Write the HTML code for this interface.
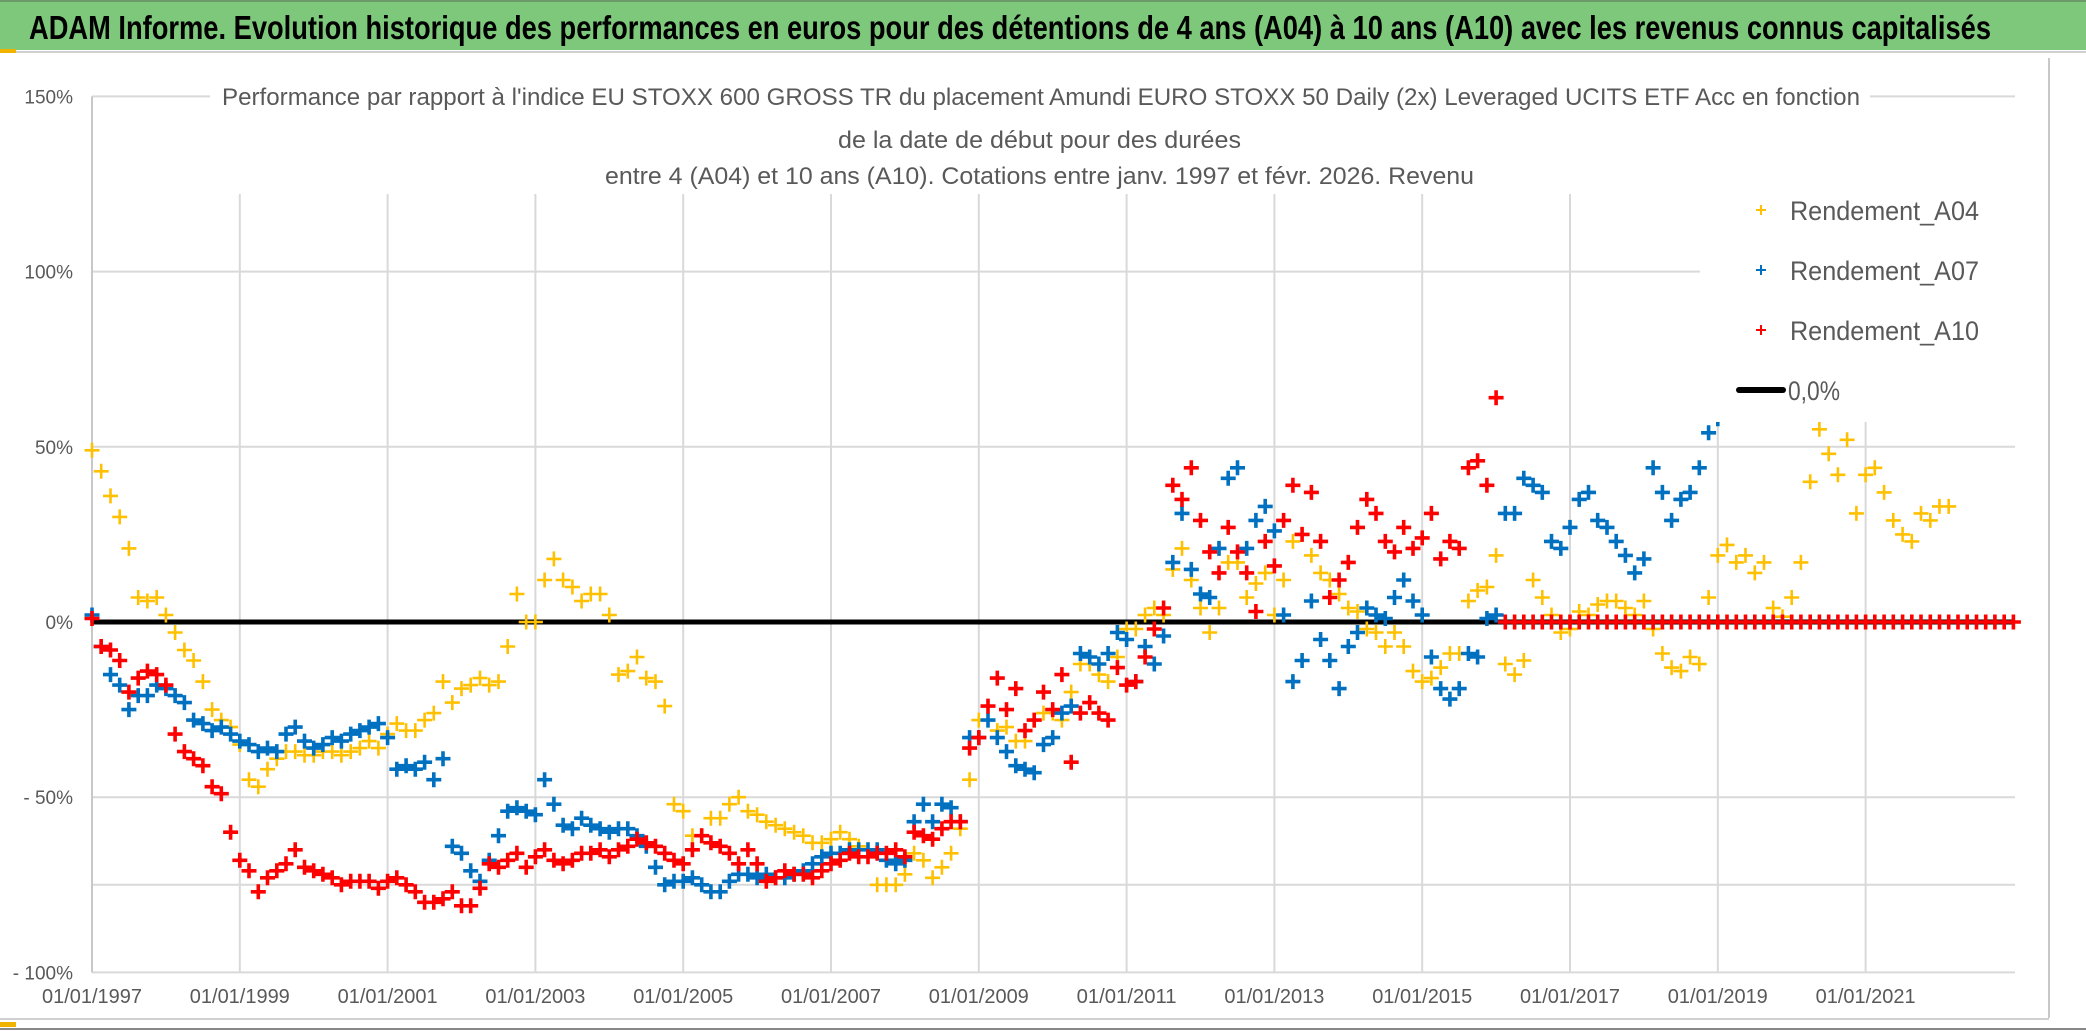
<!DOCTYPE html>
<html><head><meta charset="utf-8">
<style>
html,body{margin:0;padding:0;background:#fff;width:2086px;height:1031px;overflow:hidden}
svg{display:block}
text{font-family:"Liberation Sans",sans-serif}
</style></head>
<body>
<svg id="chart" width="2086" height="1031" viewBox="0 0 2086 1031" xmlns="http://www.w3.org/2000/svg">
  <rect x="0" y="0" width="2086" height="1031" fill="#ffffff"/>
  <rect x="0" y="0" width="2086" height="50" fill="#7ec87c"/>
  <line x1="0" y1="1" x2="2086" y2="1" stroke="#6a9a68" stroke-width="2"/>
  <line x1="0" y1="52" x2="2086" y2="52" stroke="#d0d0d0" stroke-width="2"/>
  <rect x="0" y="49" width="16" height="4" fill="#f0b400"/>
  <rect x="0" y="1022" width="16" height="5" fill="#f0b400"/>
  <line x1="2049" y1="58" x2="2049" y2="1018" stroke="#c8c8c8" stroke-width="2"/>
  <line x1="0" y1="1019" x2="2049" y2="1019" stroke="#d0d0d0" stroke-width="2"/>
  <line x1="0" y1="1029" x2="2086" y2="1029" stroke="#888" stroke-width="2"/>
  <text x="29" y="39" font-size="33" font-weight="bold" fill="#000" textLength="1962" lengthAdjust="spacingAndGlyphs">ADAM Informe. Evolution historique des performances en euros pour des détentions de 4 ans (A04) à 10 ans (A10) avec les revenus connus capitalisés</text>
  <g id="grid"></g>
  <g id="zero"></g>
  <g id="series"></g>
  <g id="overlay"></g>
  <g id="axes"></g>
</svg>
<script>
// ---- chart data ----
const startYear = 1997;
const stepYears = 0.125;
const yTickValues = [150, 100, 50, 0, -50, -100];
const yTickLabels = ["150%", "100%", "50%", "0%", "- 50%", "- 100%"];
const yGridValues = [150, 100, 50, -50, -75, -100];
const xTickYears = [1997, 1999, 2001, 2003, 2005, 2007, 2009, 2011, 2013, 2015, 2017, 2019, 2021];
const xTickLabels = ["01/01/1997","01/01/1999","01/01/2001","01/01/2003","01/01/2005","01/01/2007","01/01/2009","01/01/2011","01/01/2013","01/01/2015","01/01/2017","01/01/2019","01/01/2021"];
const a04Values = [
49,43,36,30,21,7,6,7,
2,-3,-8,-11,-17,-25,-28,-30,
-35,-45,-47,-42,-39,-37,-37,-38,
-38,-37,-37,-38,-37,-36,-34,-36,
-32,-29,-31,-31,-28,-26,-17,-23,
-19,-18,-16,-18,-17,-7,8,0,
0,12,18,12,10,6,8,8,
2,-15,-14,-10,-16,-17,-24,-52,
-54,-61,-61,-56,-56,-52,-50,-54,
-55,-57,-58,-59,-60,-61,-63,-63,
-62,-60,-62,-64,-65,-75,-75,-75,
-72,-66,-68,-73,-70,-66,-59,-45,
-28,-28,-31,-30,-34,-34,-28,-26,
-26,-28,-20,-12,-12,-15,-17,-10,
-2,-2,2,4,2,15,21,12,
4,-3,4,17,17,7,11,14,
2,12,23,25,19,14,12,8,
4,3,-2,-3,-7,-3,-7,-14,
-17,-16,-13,-9,-9,6,9,10,
19,-12,-15,-11,12,7,2,-3,
-2,3,2,5,6,6,4,2,
6,-2,-9,-13,-14,-10,-12,7,
19,22,17,19,14,17,4,1.5,
7,17,40,55,48,42,52,31,
42,44,37,29,25,23,31,29,
33,33,0,0,0,0,0,0,
0];
const a07Values = [
2,-7,-15,-18,-25,-21,-21,-18,
-19,-21,-23,-28,-29,-31,-30,-32,
-34,-35,-37,-36,-37,-32,-30,-34,
-36,-35,-33,-34,-32,-31,-30,-29,
-33,-42,-41,-42,-40,-45,-39,-64,
-66,-71,-74,-68,-61,-54,-53,-54,
-55,-45,-52,-58,-59,-56,-58,-59,
-60,-59,-59,-61,-64,-70,-75,-74,
-74,-73,-75,-77,-77,-74,-72,-72,
-73,-72,-73,-73,-72,-71,-69,-67,
-66,-66,-65,-65,-65,-65,-68,-69,
-68,-57,-52,-57,-52,-53,-57,-33,
-33,-28,-33,-37,-41,-42,-43,-35,
-33,-26,-24,-9,-10,-12,-9,-3,
-5,-17,-7,-12,-4,17,31,15,
8,7,21,41,44,21,29,33,
26,2,-17,-11,6,-5,-11,-19,
-7,-3,4,2,1,7,12,6,
2,-10,-19,-22,-19,-9,-10,1,
2,31,31,41,39,37,23,21,
27,35,37,29,27,23,19,14,
18,44,37,29,35,37,44,54,
58];
const a10Values = [
1,-7,-8,-11,-20,-16,-14,-15,
-18,-32,-37,-39,-41,-47,-49,-60,
-68,-71,-77,-73,-71,-69,-65,-70,
-71,-72,-73,-75,-74,-74,-74,-76,
-74,-73,-75,-77,-80,-80,-79,-77,
-81,-81,-76,-69,-70,-68,-66,-70,
-67,-65,-68,-69,-68,-66,-66,-65,
-67,-65,-64,-62,-63,-64,-66,-68,
-69,-65,-61,-63,-64,-66,-69,-65,
-69,-74,-73,-71,-72,-72,-73,-71,
-69,-68,-66,-67,-67,-66,-66,-65,
-67,-60,-61,-62,-59,-57,-57,-36,
-33,-24,-16,-25,-19,-31,-28,-20,
-25,-15,-40,-26,-23,-26,-28,-13,
-18,-17,-10,-2,4,39,35,44,
29,20,14,27,20,14,3,23,
16,29,39,25,37,23,7,12,
17,27,35,31,23,20,27,21,
24,31,18,23,21,44,46,39,
64,0,0,0,0,0,0,0,
0,0,0,0,0,0,0,0,
0,0,0,0,0,0,0,0,
0,0,0,0,0,0,0,0,
0,0,0,0,0,0,0,0,
0,0,0,0,0,0,0,0,
0,0,0,0,0,0,0,0,
0];

// ---- scales ----
const X0 = 92, PXYEAR = 73.9, Y0 = 622, PXPCT = 3.504, XR = 2015;
function xs(t){ return X0 + (t - 1997) * PXYEAR; }
function ys(v){ return Y0 - v * PXPCT; }
const NS = "http://www.w3.org/2000/svg";
function mk(tag, attrs, parent){
  const e = document.createElementNS(NS, tag);
  for (const k in attrs) e.setAttribute(k, attrs[k]);
  parent.appendChild(e);
  return e;
}
const grid = document.getElementById("grid");
const axes = document.getElementById("axes");
const series = document.getElementById("series");
const overlay = document.getElementById("overlay");
const zero = document.getElementById("zero");

yGridValues.forEach(v => {
  const l = mk("line", {x1: X0, x2: XR, y1: ys(v), y2: ys(v), stroke: "#d9d9d9", "stroke-width": 2}, grid);
  
  
});
xTickYears.forEach((yr, i) => {
  if (i === 0) return;
  const l = mk("line", {x1: xs(yr), x2: xs(yr), y1: ys(150), y2: ys(-100), stroke: "#d9d9d9", "stroke-width": 2}, grid);
  
  
});
const yAxis = mk("line", {x1: X0, x2: X0, y1: ys(150), y2: ys(-100), stroke: "#c8c8c8", "stroke-width": 2}, grid);



const zl = mk("line", {x1: X0, x2: XR, y1: ys(0), y2: ys(0), stroke: "#000", "stroke-width": 5}, zero);



function drawSeries(vals, color, sw, s, name){
  const g = mk("g", {}, series);
  
  
  let d = "";
  vals.forEach((v, i) => {
    const x = xs(startYear + i * stepYears), y = ys(v);
    d += "M" + (x - s).toFixed(1) + " " + y.toFixed(1) + "h" + (2 * s) + "M" + x.toFixed(1) + " " + (y - s).toFixed(1) + "v" + (2 * s);
  });
  const p = mk("path", {d: d, stroke: color, "stroke-width": sw, fill: "none"}, g);
  
  
}
drawSeries(a04Values, "#ffc000", 2.6, 7.5, "series-a04");
drawSeries(a07Values, "#0070c0", 3.6, 7.5, "series-a07");
drawSeries(a10Values, "#ff0000", 3.6, 7.5, "series-a10");

const tb = mk("rect", {x: 210, y: 74, width: 1660, height: 120, fill: "#fff"}, overlay);


const titleLines = [
  ["Performance par rapport à l'indice EU STOXX 600 GROSS TR  du placement Amundi EURO STOXX 50 Daily (2x) Leveraged UCITS ETF Acc en fonction", 222, 105, 1638],
  ["de la date de début pour des durées", 838, 148, 403],
  ["entre 4 (A04) et 10 ans (A10). Cotations entre janv. 1997 et févr. 2026. Revenu", 605, 184, 869]
];
titleLines.forEach(tl => {
  const t = mk("text", {x: tl[1], y: tl[2], "font-size": 24, fill: "#595959", textLength: tl[3], lengthAdjust: "spacingAndGlyphs"}, overlay);
  t.textContent = tl[0];
  
  
});

const lb = mk("rect", {x: 1700, y: 168, width: 325, height: 254, fill: "#fff"}, overlay);


const legendNames = ["Rendement_A04", "Rendement_A07", "Rendement_A10"];
const legendColors = ["#ffc000", "#0070c0", "#ff0000"];
legendNames.forEach((n, i) => {
  const cy = 210 + i * 60;
  const m = mk("path", {d: "M" + 1756 + " " + cy + "h10M1761 " + (cy - 5) + "v10", stroke: legendColors[i], "stroke-width": 2}, overlay);
  
  
  const t = mk("text", {x: 1790, y: cy + 10, "font-size": 27, fill: "#595959", textLength: 189, lengthAdjust: "spacingAndGlyphs"}, overlay);
  t.textContent = n;
  
  
});
const ll = mk("line", {x1: 1739, x2: 1783, y1: 390, y2: 390, stroke: "#000", "stroke-width": 6, "stroke-linecap": "round"}, overlay);


const lt = mk("text", {x: 1788, y: 400, "font-size": 27, fill: "#595959", textLength: 52, lengthAdjust: "spacingAndGlyphs"}, overlay);
lt.textContent = "0,0%";



yTickValues.forEach((v, i) => {
  const t = mk("text", {x: 73, y: ys(v) + 7, "font-size": 19, fill: "#595959", "text-anchor": "end"}, axes);
  t.textContent = yTickLabels[i];
  
  
});
xTickYears.forEach((yr, i) => {
  const t = mk("text", {x: xs(yr), y: 1003, "font-size": 20, fill: "#595959", "text-anchor": "middle", textLength: 100, lengthAdjust: "spacingAndGlyphs"}, axes);
  t.textContent = xTickLabels[i];
  
  
});
</script>
</body></html>
